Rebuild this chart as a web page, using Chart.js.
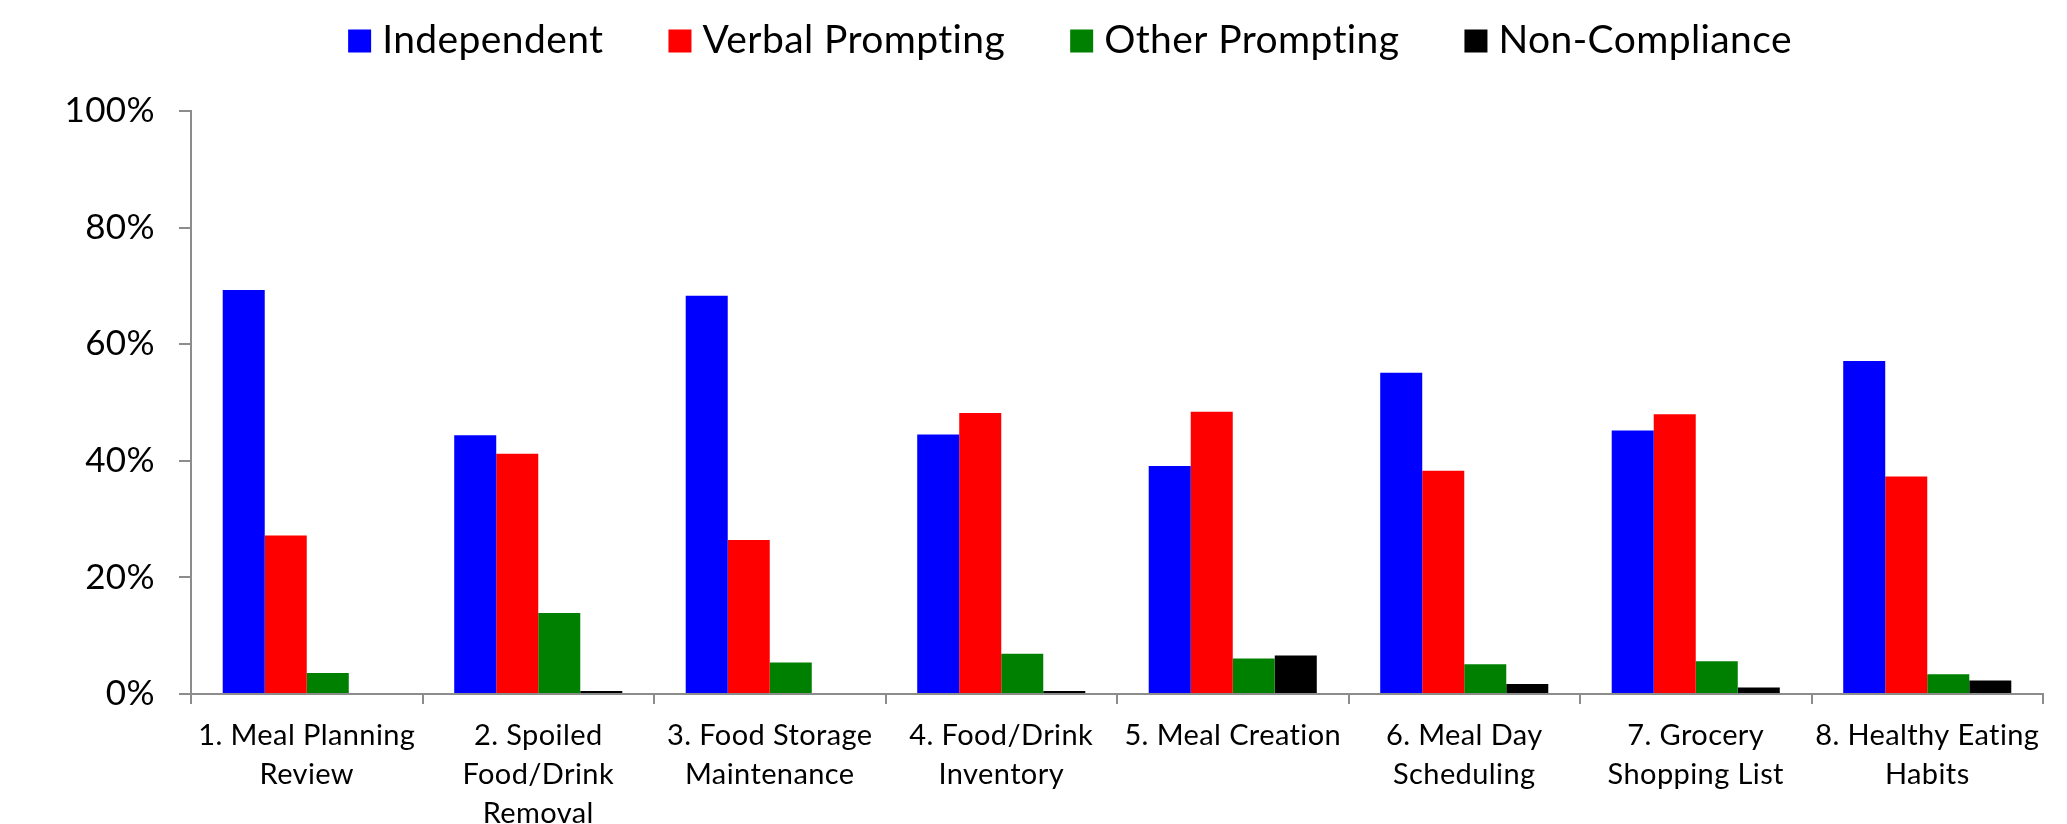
<!DOCTYPE html>
<html>
<head>
<meta charset="utf-8">
<script src="https://cdn.jsdelivr.net/npm/chart.js@4.4.1/dist/chart.umd.min.js"></script>
<style>
  html, body { margin: 0; padding: 0; background: #ffffff; }
  #wrap { width: 2067px; height: 824px; }
</style>
</head>
<body>
<div id="wrap"><canvas id="c" width="2067" height="824"></canvas></div>
<script>
// Task categories (multi-line labels)
const categories = [
  ["1. Meal Planning", "Review"],
  ["2. Spoiled", "Food/Drink", "Removal"],
  ["3. Food Storage", "Maintenance"],
  ["4. Food/Drink", "Inventory"],
  ["5. Meal Creation"],
  ["6. Meal Day", "Scheduling"],
  ["7. Grocery", "Shopping List"],
  ["8. Healthy Eating", "Habits"]
];

// Percentage of steps by level of support
const independent     = [69.3, 44.4, 68.3, 44.5, 39.1, 55.1, 45.2, 57.1];
const verbalPrompting = [27.2, 41.2, 26.4, 48.2, 48.4, 38.3, 48.0, 37.3];
const otherPrompting  = [3.6, 13.9, 5.4, 6.9, 6.1, 5.1, 5.6, 3.4];
const nonCompliance   = [0, 0.5, 0, 0.5, 6.6, 1.7, 1.1, 2.3];

const seriesNames = ["Independent", "Verbal Prompting", "Other Prompting", "Non-Compliance"];
const yTicks = [0, 20, 40, 60, 80, 100];

const FONT = "Lato";
const AXIS_GRAY = "#8c8c8c";

// Keep letters separate (no "ti"/"fi" ligatures) for every text draw
const plainText = {
  id: "plainText",
  beforeDraw(chart) {
    chart.ctx.letterSpacing = "0.4px";
  }
};

// Legend drawn across the top, centred above the plot
const topLegend = {
  id: "topLegend",
  afterDraw(chart) {
    const ctx = chart.ctx;
    const box = 23, gap = 11, itemGap = 65, centerX = 1070, baseY = 52.5;
    ctx.save();
    ctx.letterSpacing = "0.4px";
    ctx.font = "39px " + FONT;
    const items = chart.data.datasets.map(ds => ({
      label: ds.label, color: ds.backgroundColor, w: ctx.measureText(ds.label).width
    }));
    const total = items.reduce((s, it) => s + box + gap + it.w, 0) + itemGap * (items.length - 1);
    let x = centerX - total / 2;
    ctx.textBaseline = "alphabetic";
    ctx.textAlign = "left";
    items.forEach(it => {
      ctx.fillStyle = it.color;
      ctx.fillRect(x, baseY - box, box, box);
      ctx.fillStyle = "#000000";
      ctx.fillText(it.label, x + box + gap, baseY);
      x += box + gap + it.w + itemGap;
    });
    ctx.restore();
  }
};

const colors = ["#0000FF", "#FF0000", "#008000", "#000000"];
const values = [independent, verbalPrompting, otherPrompting, nonCompliance];

new Chart(document.getElementById("c"), {
  type: "bar",
  data: {
    labels: categories,
    datasets: values.map((v, i) => ({
      label: seriesNames[i],
      data: v,
      backgroundColor: colors[i],
      borderWidth: 0,
      categoryPercentage: 0.726,
      barPercentage: 1.0
    }))
  },
  options: {
    responsive: false,
    animation: false,
    devicePixelRatio: 1,
    layout: { padding: { top: 111, right: 24, bottom: 0, left: 0 } },
    plugins: {
      legend: { display: false },
      tooltip: { enabled: false }
    },
    scales: {
      x: {
        type: "category",
        offset: true,
        grid: {
          offset: true,
          drawOnChartArea: false,
          drawTicks: true,
          tickLength: 10,
          color: AXIS_GRAY,
          lineWidth: 2
        },
        border: { display: true, color: AXIS_GRAY, width: 2 },
        ticks: {
          autoSkip: false,
          maxRotation: 0,
          minRotation: 0,
          padding: 12,
          color: "#000000",
          font: { family: FONT, size: 29, lineHeight: "39px" }
        },
        afterFit(scale) { scale.height = 130; }
      },
      y: {
        min: 0,
        max: 100,
        afterBuildTicks(scale) { scale.ticks = yTicks.map(v => ({ value: v })); },
        grid: {
          drawOnChartArea: false,
          drawTicks: true,
          tickLength: 12,
          color: AXIS_GRAY,
          lineWidth: 2
        },
        border: { display: true, color: AXIS_GRAY, width: 2 },
        ticks: {
          padding: 24,
          color: "#000000",
          font: { family: FONT, size: 35 },
          callback: v => v + "%"
        },
        afterFit(scale) { scale.width = 191; }
      }
    }
  },
  plugins: [plainText, topLegend]
});
</script>
</body>
</html>
